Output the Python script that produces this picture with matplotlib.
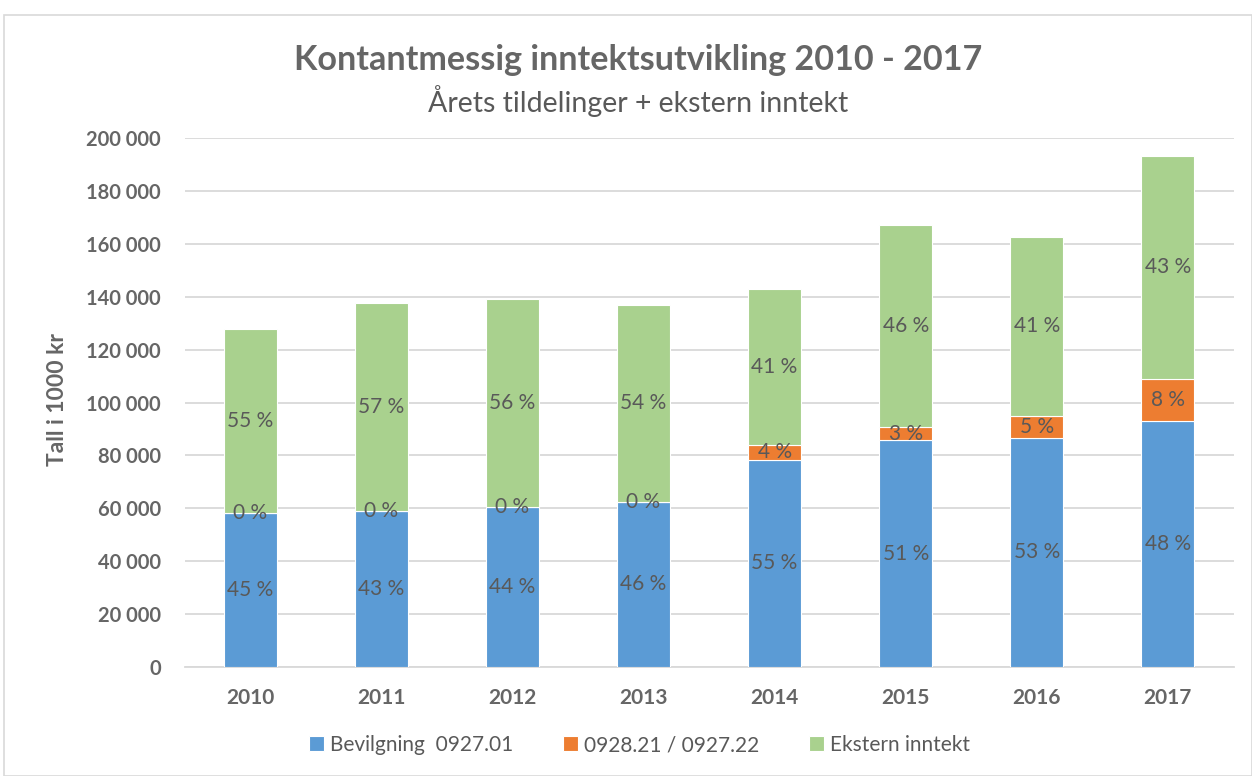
import matplotlib
matplotlib.use("Agg")
import matplotlib.pyplot as plt
from matplotlib.patches import Rectangle
import numpy as np

years = ["2010", "2011", "2012", "2013", "2014", "2015", "2016", "2017"]
bevilgning = [58200, 59000, 60500, 62400, 78300, 85800, 86600, 93000]
tilskudd = [0, 0, 0, 0, 5700, 4900, 8300, 15900]
ekstern = [69600, 78600, 78600, 74500, 58900, 76400, 67700, 84300]
lbl_bev = ["45 %", "43 %", "44 %", "46 %", "55 %", "51 %", "53 %", "48 %"]
lbl_til = ["0 %", "0 %", "0 %", "0 %", "4 %", "3 %", "5 %", "8 %"]
lbl_eks = ["55 %", "57 %", "56 %", "54 %", "41 %", "46 %", "41 %", "43 %"]
series_names = ["Bevilgning  0927.01", "0928.21 / 0927.22", "Ekstern inntekt"]
yticks = list(range(0, 200001, 20000))

plt.rcParams['font.family'] = ['Lato', 'DejaVu Sans']
TXT = "#595959"
TICK = "#666666"
colors = ["#5B9BD5", "#ED7D31", "#A9D18E"]

fig = plt.figure(figsize=(12.52, 7.76), dpi=100)
fig.patches.append(Rectangle((4/1252, 0), 1 - 4/1252, 1 - 15/776, transform=fig.transFigure,
                             fill=False, edgecolor="#D9D9D9", linewidth=1.2))
ax = fig.add_axes([184.5/1252, 1 - 667/776, (1233.5 - 184.5)/1252, (667 - 138)/776])

x = np.arange(len(years))
w = 0.405
b1 = np.array(bevilgning)
b2 = np.array(tilskudd)
b3 = np.array(ekstern)
bars = []
bars.append(ax.bar(x, b1, w, color=colors[0], edgecolor="white", linewidth=0.8, label=series_names[0], zorder=3))
bars.append(ax.bar(x, b2, w, bottom=b1, color=colors[1], edgecolor="white", linewidth=0.8, label=series_names[1], zorder=3))
bars.append(ax.bar(x, b3, w, bottom=b1 + b2, color=colors[2], edgecolor="white", linewidth=0.8, label=series_names[2], zorder=3))

for bc, labels in zip(bars, [lbl_bev, lbl_til, lbl_eks]):
    ax.bar_label(bc, labels=labels, label_type="center", color=TXT, fontsize=15)

ax.set_ylim(0, 200000)
ax.set_xlim(-0.5, len(years) - 0.5)
ax.set_yticks(yticks)
ax.set_yticklabels([f"{v:,}".replace(",", " ") for v in yticks], fontsize=14.5, fontweight="bold", color=TICK)
ax.set_xticks(x)
ax.set_xticklabels(years, fontsize=15, fontweight="bold", color=TICK)
ax.tick_params(axis="y", length=0, pad=17)
ax.tick_params(axis="x", length=0, pad=15)
ax.grid(axis="y", color="#D9D9D9", linewidth=1.3, zorder=0)
for s in ["top", "right", "left"]:
    ax.spines[s].set_visible(False)
ax.spines["bottom"].set_color("#D9D9D9")
ax.spines["bottom"].set_linewidth(1.3)
ax.set_ylabel("Tall i 1000 kr", fontsize=16.5, fontweight="bold", color=TICK)
ax.yaxis.set_label_coords(-0.1206, 0.505)
ax.yaxis.label.set_verticalalignment("center")

fig.text(0.5095, 1 - 60/776, "Kontantmessig inntektsutvikling 2010 - 2017", ha="center", va="center",
         fontsize=24.6, fontweight="bold", color=TICK)
fig.text(0.5095, 1 - 101/776, "Årets tildelinger + ekstern inntekt", ha="center", va="center",
         fontsize=20.5, color=TXT)

leg = fig.legend(handles=bars, labels=series_names, loc="center", bbox_to_anchor=(0.511, 1 - 745/776),
                 ncol=3, frameon=False, fontsize=15, handlelength=0.7, handleheight=0.7,
                 handletextpad=0.3, columnspacing=2.4, labelcolor=TXT)

fig.savefig("out.png", dpi=100)
